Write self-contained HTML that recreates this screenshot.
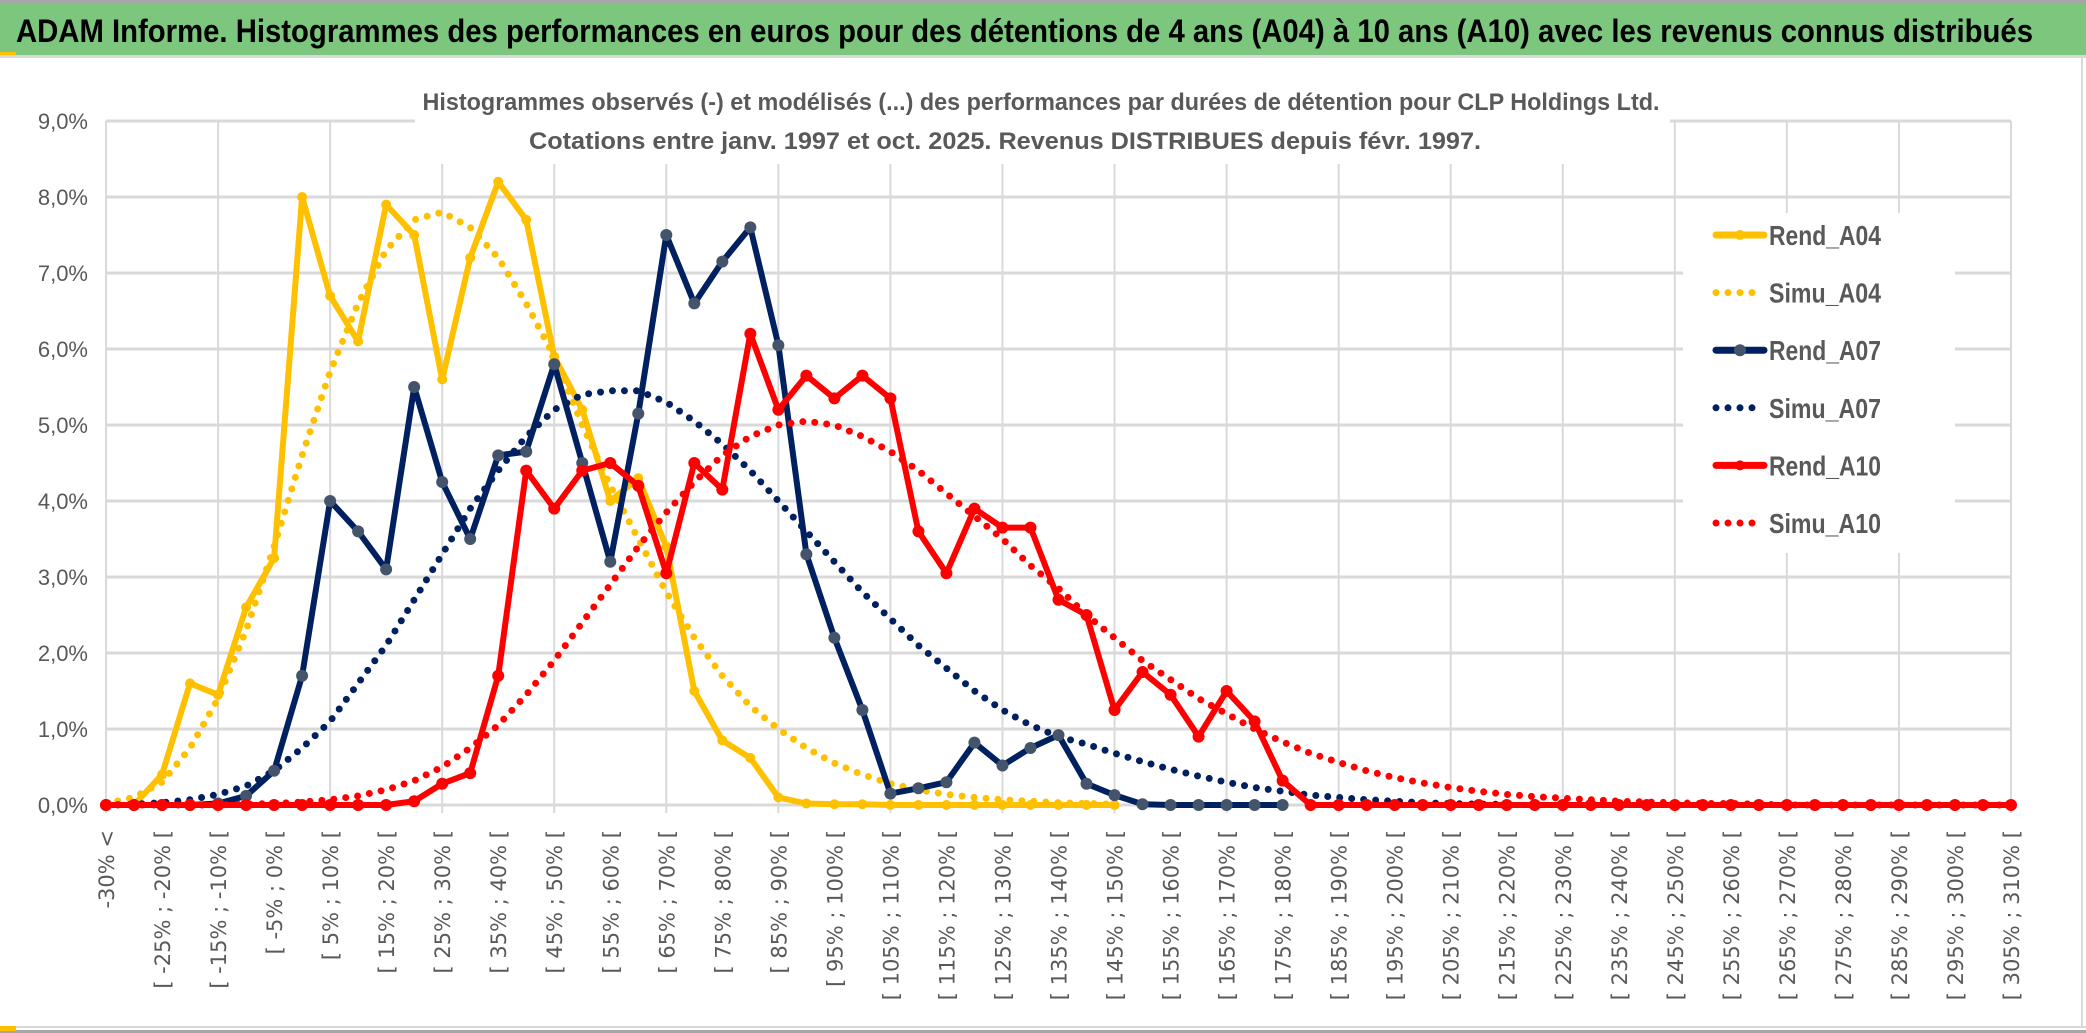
<!DOCTYPE html>
<html><head><meta charset="utf-8"><style>
html,body{margin:0;padding:0;background:#fff;}
svg{display:block;}
</style></head><body>
<svg id="chart" width="2086" height="1033" viewBox="0 0 2086 1033" xmlns="http://www.w3.org/2000/svg">
<rect x="0" y="0" width="2086" height="1033" fill="#fff"/>
<rect x="0" y="0" width="2086" height="3" fill="#a6a6a6"/>
<rect x="0" y="3" width="2086" height="52" fill="#7dc67e"/>
<rect x="0" y="55" width="2086" height="3" fill="#d9d9d9"/>
<rect x="0" y="52" width="16" height="3" fill="#ffc000"/>
<text x="16" y="42" font-family="'Liberation Sans Narrow','Liberation Sans',sans-serif" font-weight="bold" font-size="32" fill="#000" textLength="2017" lengthAdjust="spacingAndGlyphs">ADAM Informe. Histogrammes des performances en euros pour des détentions de 4 ans (A04) à 10 ans (A10) avec les revenus connus distribués</text>
<rect x="0" y="1026" width="2086" height="2" fill="#d9d9d9"/>
<rect x="0" y="1030" width="2086" height="3" fill="#a6a6a6"/>
<rect x="0" y="1026" width="16" height="5" fill="#ffc000"/>
<rect x="2081" y="58" width="2" height="970" fill="#d9d9d9"/>
<g id="grid"></g>
<rect x="415" y="80" width="1255" height="84" fill="#fff"/>
<text x="1041" y="110" text-anchor="middle" font-family="'Liberation Sans Narrow','Liberation Sans',sans-serif" font-weight="bold" font-size="24" fill="#595959" textLength="1237" lengthAdjust="spacingAndGlyphs">Histogrammes observés (-) et modélisés (...) des performances par durées de détention pour CLP Holdings Ltd.</text>
<text x="1005" y="149" text-anchor="middle" font-family="'Liberation Sans Narrow','Liberation Sans',sans-serif" font-weight="bold" font-size="24" fill="#595959" textLength="952" lengthAdjust="spacingAndGlyphs">Cotations entre janv. 1997 et oct. 2025. Revenus DISTRIBUES depuis févr. 1997.</text>
<g id="yaxis"></g>
<g id="xaxis"></g>
<g id="series"></g>
<g id="legend"></g>
</svg>
<script>
const yTicks = [0,1,2,3,4,5,6,7,8,9];
const rendA04 = [0,0,0.4,1.6,1.45,2.6,3.25,8.0,6.7,6.1,7.9,7.5,5.6,7.2,8.2,7.7,5.9,5.2,4.0,4.3,3.4,1.5,0.85,0.62,0.1,0.02,0.01,0.01,0,0,0,0,0,0,0,0,0];
const simuA04 = [0.02,0.1,0.3,0.75,1.4,2.3,3.4,4.6,5.7,6.6,7.3,7.7,7.8,7.6,7.2,6.6,5.9,5.0,4.2,3.5,2.8,2.2,1.7,1.3,1.0,0.75,0.55,0.4,0.28,0.2,0.14,0.1,0.07,0.05,0.03,0.02,0.01];
const rendA07 = [0,0,0,0,0.02,0.12,0.45,1.7,4.0,3.6,3.1,5.5,4.25,3.5,4.6,4.65,5.8,4.5,3.2,5.15,7.5,6.6,7.15,7.6,6.05,3.3,2.2,1.25,0.15,0.22,0.3,0.82,0.52,0.75,0.92,0.28,0.13,0.01,0,0,0,0,0];
const simuA07 = [0,0.01,0.03,0.07,0.14,0.25,0.45,0.75,1.1,1.6,2.1,2.7,3.3,3.9,4.4,4.85,5.2,5.4,5.45,5.45,5.3,5.05,4.75,4.4,4.0,3.6,3.2,2.8,2.45,2.1,1.8,1.5,1.25,1.05,0.9,0.8,0.68,0.57,0.47,0.38,0.3,0.23,0.18,0.13,0.1,0.07,0.05,0.03,0.02,0.01,0.01];
const rendA10 = [0,0,0,0,0,0,0,0,0,0,0,0.05,0.28,0.42,1.7,4.4,3.9,4.4,4.5,4.2,3.05,4.5,4.15,6.2,5.2,5.65,5.35,5.65,5.35,3.6,3.05,3.9,3.65,3.65,2.7,2.5,1.25,1.75,1.45,0.9,1.5,1.1,0.32,0,0,0,0,0,0,0,0,0,0,0,0,0,0,0,0,0,0,0,0,0,0,0,0,0,0];
const simuA10 = [0,0,0,0,0,0.01,0.02,0.04,0.07,0.12,0.2,0.32,0.5,0.75,1.05,1.45,1.9,2.4,2.9,3.4,3.85,4.25,4.6,4.85,5.0,5.05,5.0,4.85,4.65,4.4,4.1,3.8,3.5,3.15,2.85,2.5,2.2,1.9,1.65,1.4,1.2,1.0,0.83,0.68,0.56,0.45,0.36,0.29,0.23,0.18,0.14,0.11,0.09,0.07,0.05,0.04,0.03,0.02,0.02,0.01,0,0,0,0,0,0,0,0,0];
const nCats = 69;
const legendNames = ["Rend_A04","Simu_A04","Rend_A07","Simu_A07","Rend_A10","Simu_A10"];

const NS = "http://www.w3.org/2000/svg";
const X0 = 106, X1 = 2011, Y0 = 805, Y9 = 121;
function xs(i){ return X0 + i*(X1-X0)/(nCats-1); }
function ys(v){ return Y0 - v*(Y0-Y9)/9; }
function mk(tag, attrs, parent){ const e=document.createElementNS(NS,tag); for(const k in attrs) e.setAttribute(k,attrs[k]); parent.appendChild(e); return e; }
function catLabel(i){ if(i===0) return "-30% <"; const a=-35+5*i, b=a+5; return "[ "+a+"% ; "+b+"% ["; }

const grid = document.getElementById('grid');
yTicks.forEach(t=>{
  const l = mk('line',{x1:X0,x2:X1,y1:ys(t),y2:ys(t),stroke:'#d9d9d9','stroke-width':3},grid);
  
  
});
for(let i=0;i<nCats;i+=4){
  const l = mk('line',{x1:xs(i),x2:xs(i),y1:Y9,y2:Y0+8,stroke:'#d9d9d9','stroke-width':2},grid);
  
  
}
const yaxis = document.getElementById('yaxis');
yTicks.forEach(t=>{
  const tx = mk('text',{x:88,y:ys(t)+8,'text-anchor':'end','font-family':"'Liberation Sans Narrow','Liberation Sans',sans-serif",'font-size':22,fill:'#595959'},yaxis);
  tx.textContent = t.toFixed(1).replace('.',',')+'%';
  
  
});
const xaxis = document.getElementById('xaxis');
for(let i=0;i<nCats;i+=2){
  const x = xs(i)+8, y = 830;
  const tx = mk('text',{x:x,y:y,'text-anchor':'end','font-family':"'DejaVu Sans',sans-serif",'font-size':21,fill:'#595959',transform:'rotate(-90 '+x+' '+y+')'},xaxis);
  tx.textContent = catLabel(i);
  
  
}
const series = document.getElementById('series');
function pts(arr){ return arr.map((v,i)=>xs(i).toFixed(1)+','+ys(v).toFixed(1)).join(' '); }
function dotted(arr,color,name){
  const p = mk('polyline',{points:pts(arr),fill:'none',stroke:color,'stroke-width':7,'stroke-linecap':'round','stroke-dasharray':'0 12'},series);
  
  
}
function solid(arr,color,mcolor,r,name){
  const g = mk('g',{},series);
  
  
  const p = mk('polyline',{points:pts(arr),fill:'none',stroke:color,'stroke-width':6,'stroke-linejoin':'round'},g);
  
  
  arr.forEach((v,i)=>{
    const c = mk('circle',{cx:xs(i),cy:ys(v),r:r,fill:mcolor},g);
    
    
  });
}
dotted(simuA04,'#ffc000','simu-a04');
solid(rendA04,'#ffc000','#ffc000',5,'rend-a04');
dotted(simuA07,'#002060','simu-a07');
solid(rendA07,'#002060','#44546a',6,'rend-a07');
dotted(simuA10,'#ff0000','simu-a10');
solid(rendA10,'#ff0000','#ff0000',6,'rend-a10');

const legend = document.getElementById('legend');
mk('rect',{x:1683,y:213,width:272,height:340,fill:'#fff'},legend);
const lcolors = ['#ffc000','#ffc000','#002060','#002060','#ff0000','#ff0000'];
const lmark = ['#ffc000',null,'#44546a',null,'#ff0000',null];
legendNames.forEach((n,i)=>{
  const y = 235 + i*57.6;
  const g = mk('g',{},legend);
  
  
  if(i%2===0){
    mk('line',{x1:1716,x2:1764,y1:y,y2:y,stroke:lcolors[i],'stroke-width':7,'stroke-linecap':'round'},g);
    mk('circle',{cx:1740,cy:y,r:i===2?6:5,fill:lmark[i]},g);
  } else {
    mk('line',{x1:1716,x2:1764,y1:y,y2:y,stroke:lcolors[i],'stroke-width':7,'stroke-linecap':'round','stroke-dasharray':'0 12'},g);
  }
  const t = mk('text',{x:1769,y:y+10,'font-family':"'Liberation Sans Narrow','Liberation Sans',sans-serif",'font-weight':'bold','font-size':28,fill:'#595959',textLength:112,lengthAdjust:'spacingAndGlyphs'},g);
  t.textContent = n;
  
  
});
</script>
</body></html>
